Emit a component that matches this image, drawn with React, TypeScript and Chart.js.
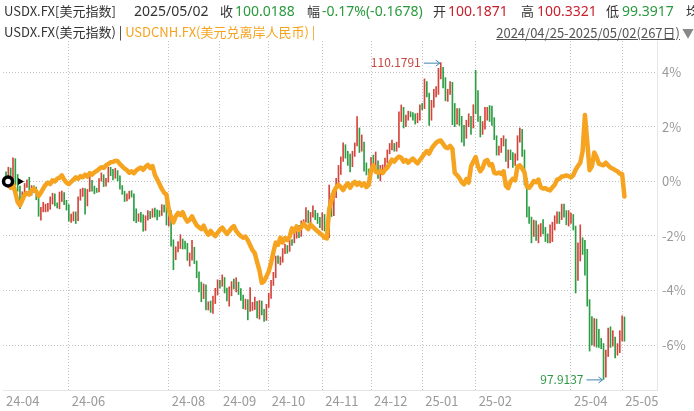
import { useEffect, useRef } from 'react';
import { Chart, registerables } from 'chart.js';
Chart.register(...registerables);

// ---------- categories ----------
const monthLabels = ['24-04','24-05','24-06','24-07','24-08','24-09','24-10','24-11','24-12','25-01','25-02','25-03','25-04','25-05'];
const monthDays = [4,23,20,23,22,21,23,21,22,23,20,21,22,2];
const shownMonths = ['24-04','24-06','24-08','24-09','24-10','24-11','24-12','25-01','25-02','25-04','25-05'];
const yTicks = [-6,-4,-2,0,2,4];
const startDate = '2024/04/25';
const endDate = '2025/05/02';

// ---------- USDX daily OHLC ----------
const usdxOpen = [
  105.85,105.55,106.05,105.60,
  106.22,105.76,105.30,105.00,105.05,105.45,105.55,105.22,105.30,105.22,104.98,104.33,104.44,104.45,104.63,104.63,104.93,105.02,104.72,104.60,105.11,105.12,104.74,
  104.61,104.14,104.25,104.27,104.11,104.89,105.15,105.26,104.66,105.22,105.55,105.33,105.25,105.23,105.63,105.80,105.47,105.63,106.08,105.91,
  105.87,105.90,105.73,105.39,105.11,104.88,105.00,105.12,105.06,104.44,104.09,104.26,104.24,103.77,104.16,104.40,104.30,104.47,104.37,104.35,104.32,104.56,104.53,
  104.10,104.41,103.21,102.70,102.97,103.14,103.24,103.14,103.13,102.61,102.62,103.01,102.45,101.97,101.46,101.09,101.49,100.68,100.86,100.54,101.09,101.35,
  101.70,101.67,101.82,101.37,101.09,101.18,101.63,101.62,101.63,101.35,101.11,100.75,100.89,100.60,100.62,100.72,100.85,100.36,100.91,100.56,100.38,
  100.78,101.20,101.69,101.99,102.53,102.52,102.54,102.92,102.99,102.90,103.29,103.25,103.59,103.83,103.49,104.01,104.08,104.41,104.07,104.26,104.32,104.31,104.09,
  103.99,104.28,103.89,103.43,105.08,104.31,104.99,105.54,106.03,106.49,106.70,106.69,106.28,106.21,106.68,107.00,107.55,106.85,107.01,106.08,105.99,
  105.74,106.45,106.35,106.36,105.75,105.99,106.15,106.41,106.70,106.96,106.99,106.85,106.97,108.14,108.40,107.82,108.03,108.26,108.13,108.10,107.99,108.13,
  108.49,108.45,109.39,108.95,108.26,108.53,109.05,109.18,109.65,109.86,109.30,109.06,109.08,109.34,108.33,108.08,108.25,108.04,107.44,107.34,107.88,107.99,107.81,
  109.50,108.94,107.97,107.59,107.69,108.04,108.30,107.95,107.94,107.30,106.71,106.76,107.13,107.19,106.39,106.63,106.54,106.36,106.48,107.27,
  107.56,106.73,105.58,104.29,104.08,103.84,103.92,103.44,103.61,103.83,103.73,103.35,103.26,103.46,103.86,104.12,104.27,104.20,104.56,104.32,103.99,
  104.21,104.24,103.80,102.08,103.02,103.26,102.93,102.88,100.88,100.10,99.64,100.22,99.40,99.38,99.23,98.36,98.92,99.84,99.31,99.47,98.98,99.24,
  99.47,100.1871,
];
const usdxHigh = [
  105.95,106.13,106.10,106.49,
  106.46,105.85,105.40,105.18,105.50,105.64,105.74,105.42,105.41,105.36,105.05,104.58,104.77,104.70,104.73,104.98,105.12,105.10,104.75,105.17,105.21,105.15,104.85,
  104.68,104.32,104.40,104.40,104.98,105.28,105.32,105.30,105.27,105.80,105.62,105.40,105.32,105.69,105.91,105.84,105.70,106.13,106.13,106.05,
  106.09,106.00,105.80,105.42,105.20,105.10,105.20,105.22,105.10,104.52,104.33,104.38,104.29,104.25,104.45,104.42,104.52,104.55,104.48,104.45,104.68,104.66,104.80,
  104.45,104.45,103.32,103.05,103.25,103.52,103.35,103.27,103.18,102.81,103.30,103.03,102.50,102.08,101.68,101.61,101.58,100.92,100.95,101.14,101.44,101.77,
  101.75,101.96,101.86,101.45,101.50,101.70,101.80,101.85,101.68,101.43,101.18,101.02,101.00,101.47,100.90,101.10,100.94,100.97,100.95,100.63,100.82,
  101.25,101.75,102.06,102.69,102.70,102.66,102.98,103.14,103.10,103.32,103.33,103.61,103.87,103.88,104.05,104.10,104.57,104.45,104.38,104.63,104.46,104.35,104.19,
  104.37,104.30,103.95,105.44,105.12,105.05,105.70,106.20,106.53,107.07,107.00,106.75,106.64,106.75,107.07,108.09,107.65,107.38,107.10,106.30,106.06,
  106.51,106.60,106.72,106.38,106.20,106.22,106.48,106.80,107.05,107.18,107.05,107.10,108.27,108.54,108.45,108.15,108.30,108.28,108.25,108.20,108.22,108.55,
  108.60,109.55,109.45,109.00,108.72,109.15,109.25,109.96,110.1791,110.00,109.60,109.15,109.45,109.42,108.60,108.40,108.40,108.10,107.75,107.95,108.20,108.10,108.55,
  109.88,109.10,108.10,107.90,108.45,108.45,108.52,108.50,108.05,107.35,106.95,107.25,107.35,107.22,106.80,106.80,106.70,106.65,107.35,107.65,
  107.60,106.80,105.70,104.60,104.20,104.08,104.05,103.90,103.95,104.10,103.80,103.55,103.90,104.00,104.25,104.40,104.40,104.70,104.70,104.45,104.45,
  104.35,104.30,103.85,103.20,103.90,103.40,103.30,102.95,101.00,100.35,100.27,100.25,99.85,99.50,99.30,99.05,99.90,99.95,99.80,99.55,99.30,99.80,
  100.38,100.3321,
];
const usdxLow = [
  105.45,105.50,105.52,105.56,
  105.44,105.20,104.52,104.96,105.00,105.35,105.15,105.05,105.15,104.87,104.23,104.08,104.40,104.40,104.42,104.50,104.70,104.63,104.55,104.52,104.80,104.68,104.47,
  104.04,103.99,104.05,103.95,104.06,104.85,105.00,104.31,104.63,105.19,105.20,105.10,105.15,105.17,105.59,105.38,105.40,105.55,105.80,105.64,
  105.70,105.60,105.28,105.08,104.80,104.82,104.90,104.97,104.05,103.98,104.03,104.00,103.65,103.68,104.08,104.14,104.19,104.20,104.09,104.22,104.26,104.39,103.89,
  103.85,103.07,102.16,102.55,102.85,102.98,102.96,102.97,102.52,102.30,102.53,102.40,101.85,101.30,100.92,101.04,100.60,100.60,100.51,100.47,100.85,101.18,
  101.45,101.52,101.26,100.95,100.75,101.15,101.42,101.30,101.20,100.97,100.65,100.62,100.22,100.55,100.58,100.62,100.29,100.25,100.41,100.16,100.20,
  100.70,101.05,101.55,101.85,102.40,102.35,102.45,102.78,102.80,102.87,103.10,103.20,103.38,103.40,103.45,103.85,104.00,103.97,103.98,104.20,104.10,103.95,103.79,
  103.70,103.66,103.37,103.40,104.22,104.25,104.95,105.45,105.85,106.35,106.48,106.20,105.95,106.15,106.55,106.95,106.70,106.75,105.98,105.83,105.63,
  105.70,106.10,106.10,105.70,105.60,105.85,106.08,106.30,106.65,106.80,106.75,106.75,106.90,107.90,107.65,107.70,107.95,108.08,107.95,107.80,107.85,107.95,
  108.35,108.40,108.85,107.75,107.95,108.45,108.85,108.95,109.55,109.20,108.70,108.68,108.95,107.78,107.70,107.80,107.75,107.10,106.95,107.25,107.70,107.40,107.65,
  108.20,107.90,107.30,107.40,107.60,107.95,107.90,107.75,107.20,106.60,106.60,106.70,106.95,106.35,106.10,106.42,106.12,106.20,106.40,107.10,
  106.55,105.45,104.20,103.95,103.20,103.45,103.30,103.20,103.45,103.55,103.25,103.20,103.20,103.25,103.70,103.95,103.95,104.10,104.20,103.90,103.85,
  103.95,103.70,101.26,101.75,102.50,102.75,101.95,100.75,99.01,99.25,99.20,99.16,99.15,99.10,97.9137,98.00,98.80,99.15,99.20,98.75,98.85,98.95,
  99.40,99.3917,
];
const usdxClose = [
  105.58,106.06,105.59,106.22,
  105.75,105.29,105.03,105.04,105.45,105.55,105.22,105.30,105.22,104.98,104.33,104.44,104.45,104.63,104.63,104.93,105.02,104.72,104.60,105.11,105.12,104.74,104.61,
  104.14,104.25,104.27,104.11,104.89,105.15,105.26,104.66,105.22,105.55,105.33,105.25,105.23,105.63,105.80,105.47,105.63,106.08,105.91,105.87,
  105.90,105.73,105.39,105.11,104.88,105.00,105.12,105.06,104.44,104.09,104.26,104.24,103.77,104.16,104.40,104.30,104.47,104.37,104.35,104.32,104.56,104.53,104.10,
  104.41,103.21,102.70,102.97,103.14,103.24,103.14,103.13,102.61,102.62,103.01,102.45,101.97,101.46,101.09,101.49,100.68,100.86,100.54,101.09,101.35,101.70,
  101.67,101.82,101.37,101.09,101.18,101.63,101.62,101.63,101.35,101.11,100.75,100.89,100.60,100.62,100.72,100.85,100.36,100.91,100.56,100.38,100.78,
  101.20,101.69,101.99,102.53,102.52,102.54,102.92,102.99,102.90,103.29,103.25,103.59,103.83,103.49,104.01,104.08,104.41,104.07,104.26,104.32,104.31,104.09,103.99,
  104.28,103.89,103.43,105.08,104.31,104.99,105.54,106.03,106.49,106.70,106.69,106.28,106.21,106.68,107.00,107.55,106.85,107.01,106.08,105.99,105.74,
  106.45,106.35,106.36,105.75,105.99,106.15,106.41,106.70,106.96,106.99,106.85,106.97,108.14,108.40,107.82,108.03,108.26,108.13,108.10,107.99,108.13,108.49,
  108.45,109.39,108.95,108.26,108.53,109.05,109.18,109.65,109.86,109.30,109.06,109.08,109.34,108.33,108.08,108.25,108.04,107.44,107.34,107.88,107.99,107.81,108.37,
  108.94,107.97,107.59,107.69,108.04,108.30,107.95,107.94,107.30,106.71,106.76,107.13,107.19,106.39,106.63,106.54,106.36,106.48,107.27,107.56,
  106.73,105.58,104.29,104.08,103.84,103.92,103.44,103.61,103.83,103.73,103.35,103.26,103.46,103.86,104.12,104.27,104.20,104.56,104.32,103.99,104.21,
  104.24,103.80,102.08,103.02,103.26,102.93,102.88,100.88,100.10,99.64,100.22,99.40,99.38,99.23,98.36,98.92,99.84,99.31,99.47,98.98,99.24,99.47,
  100.1866,100.0188,
];

// ---------- USDCNH daily close ----------
const cnhClose = [
  7.2650,7.2620,7.2480,7.2580,
  7.2350,7.2100,7.2010,7.2150,7.2290,7.2340,7.2300,7.2410,7.2460,7.2380,7.2260,7.2350,7.2460,7.2560,7.2620,7.2580,7.2680,7.2650,7.2720,7.2750,7.2810,7.2700,7.2620,
  7.2580,7.2640,7.2700,7.2760,7.2720,7.2790,7.2760,7.2830,7.2780,7.2870,7.2830,7.2890,7.2930,7.2980,7.3030,7.3010,7.3080,7.3120,7.3160,7.3170,
  7.3200,7.3190,7.3110,7.3050,7.2990,7.2950,7.2880,7.2920,7.2870,7.2940,7.2990,7.3020,7.2960,7.3040,7.3090,7.3010,7.3060,7.2830,7.2710,7.2580,7.2450,7.2350,7.2300,
  7.1900,7.1700,7.1560,7.1720,7.1810,7.1750,7.1830,7.1680,7.1580,7.1630,7.1720,7.1590,7.1480,7.1430,7.1380,7.1470,7.1320,7.1230,7.1330,7.1250,7.1190,7.1280,
  7.1360,7.1420,7.1330,7.1250,7.1320,7.1410,7.1460,7.1330,7.1250,7.1190,7.1150,7.1180,7.1080,7.0950,7.0820,7.0740,7.0500,7.0280,6.9950,6.9990,7.0120,
  7.0250,7.0480,7.0760,7.1020,7.0960,7.1150,7.1020,7.1140,7.1090,7.1180,7.1400,7.1320,7.1450,7.1360,7.1430,7.1530,7.1450,7.1380,7.1500,7.1440,7.1380,7.1320,7.1270,
  7.1220,7.1150,7.1130,7.1920,7.2150,7.2380,7.2490,7.2560,7.2500,7.2420,7.2530,7.2600,7.2480,7.2580,7.2640,7.2560,7.2620,7.2540,7.2600,7.2500,7.2560,
  7.2950,7.3080,7.2910,7.2880,7.2930,7.2870,7.2960,7.3020,7.3120,7.3230,7.3180,7.3260,7.3310,7.3280,7.3180,7.3220,7.3150,7.3210,7.3260,7.3190,7.3130,7.3220,
  7.3300,7.3390,7.3460,7.3390,7.3520,7.3610,7.3680,7.3720,7.3740,7.3650,7.3560,7.3540,7.3600,7.3520,7.2880,7.2820,7.2740,7.2630,7.2570,7.2710,7.2620,7.3050,7.3180,
  7.3300,7.3050,7.2920,7.3010,7.3190,7.3220,7.3080,7.3110,7.2880,7.2860,7.2890,7.2850,7.2920,7.2530,7.2470,7.2650,7.2720,7.2680,7.3050,7.3080,
  7.3000,7.2890,7.2510,7.2480,7.2560,7.2660,7.2630,7.2700,7.2500,7.2460,7.2470,7.2430,7.2410,7.2490,7.2560,7.2700,7.2720,7.2780,7.2790,7.2810,7.2790,
  7.2760,7.2820,7.2960,7.3060,7.3150,7.3450,7.4420,7.3700,7.2950,7.3050,7.3420,7.3300,7.3120,7.3100,7.3080,7.3150,7.3080,7.3020,7.2990,7.2950,7.2920,7.2860,
  7.2850,7.2250,
];

const FONT = '"Noto Sans CJK SC", "Noto Sans", sans-serif';
const NUM_FONT = '"Noto Sans", "Noto Sans CJK SC", sans-serif';
const UP = '#d4463b';
const DOWN = '#2e9e44';
const ORANGE = '#f6a31f';
const TXT = '#333333';
const GRID = '#c2c2c2';
const AXIS_TXT = '#9a9a9a';

const X_MIN = -1.3;
const X_MAX = 280;
const Y_MIN = -7.65;
const Y_MAX = 5.15;

const pctX = (p: number) => (p / usdxClose[0] - 1) * 100;
const pctC = (p: number) => (p / cnhClose[0] - 1) * 100;

const monthStart: Record<string, number> = {};
{
  let acc = 0;
  monthLabels.forEach((m, k) => { monthStart[m] = acc; acc += monthDays[k]; });
}

const extremesPlugin = {
  id: 'extremes',
  afterDatasetsDraw(chart: any) {
    const { ctx, scales } = chart;
    const x = scales.x, y = scales.y;
    let hi = 0, lo = 0;
    usdxHigh.forEach((v, i) => { if (v > usdxHigh[hi]) hi = i; });
    usdxLow.forEach((v, i) => { if (v < usdxLow[lo]) lo = i; });
    const draw = (i: number, val: number, color: string) => {
      const px = x.getPixelForValue(i);
      const py = y.getPixelForValue(pctX(val));
      ctx.save();
      ctx.font = `12px ${FONT}`;
      ctx.fillStyle = color;
      ctx.textAlign = 'right';
      ctx.textBaseline = 'middle';
      ctx.fillText(val.toFixed(4), px - 20, py);
      ctx.strokeStyle = '#3f86b0';
      ctx.lineWidth = 1;
      ctx.beginPath();
      ctx.moveTo(px - 17, py + 0.5);
      ctx.lineTo(px - 1, py + 0.5);
      ctx.moveTo(px - 5, py - 2.5);
      ctx.lineTo(px - 1, py + 0.5);
      ctx.lineTo(px - 5, py + 3.5);
      ctx.stroke();
      ctx.restore();
    };
    draw(hi, usdxHigh[hi], '#c8473d');
    draw(lo, usdxLow[lo], '#2f9a46');
  },
};

const markerPlugin = {
  id: 'startMarker',
  afterDatasetsDraw(chart: any) {
    const { ctx, scales } = chart;
    const px = scales.x.getPixelForValue(0) + 2;
    const py = scales.y.getPixelForValue(0);
    ctx.save();
    ctx.beginPath();
    ctx.arc(px, py, 4.5, 0, Math.PI * 2);
    ctx.fillStyle = '#ffffff';
    ctx.fill();
    ctx.lineWidth = 3.5;
    ctx.strokeStyle = '#000000';
    ctx.stroke();
    ctx.beginPath();
    ctx.moveTo(px + 10, py - 3.5);
    ctx.lineTo(px + 16, py);
    ctx.lineTo(px + 10, py + 3.5);
    ctx.closePath();
    ctx.fillStyle = '#000000';
    ctx.fill();
    ctx.restore();
  },
};

export default function App() {
  const ref = useRef<HTMLCanvasElement | null>(null);

  useEffect(() => {
    document.body.style.margin = '0';
    const n = usdxClose.length;
    const idx = Array.from({ length: n }, (_, i) => i);
    const colors = idx.map(i => (usdxClose[i] >= usdxOpen[i] ? UP : DOWN));
    const wicks = idx.map(i => ({ x: i, y: [pctX(usdxLow[i]), pctX(usdxHigh[i])] }));
    const cnh = idx.map(i => ({ x: i, y: pctC(cnhClose[i]) }));
    const xTickVals = shownMonths.map(m => (monthStart[m] === 0 ? X_MIN : monthStart[m]));

    const chart = new Chart(ref.current as HTMLCanvasElement, {
      type: 'bar',
      data: {
        datasets: [
          {
            type: 'line',
            data: cnh,
            borderColor: ORANGE,
            borderWidth: 4.5,
            pointRadius: 0,
            tension: 0,
            borderJoinStyle: 'round',
            borderCapStyle: 'round',
            order: 0,
          } as any,
          {
            type: 'bar',
            data: wicks,
            backgroundColor: colors,
            barThickness: 1,
            grouped: false,
            order: 2,
          } as any,
        ],
      },
      options: {
        animation: false,
        responsive: false,
        maintainAspectRatio: false,
        layout: { padding: { top: 41, left: 0, right: 0, bottom: 0 } },
        plugins: { legend: { display: false }, tooltip: { enabled: false }, title: { display: false } },
        scales: {
          x: {
            type: 'linear',
            min: X_MIN,
            max: X_MAX,
            offset: false,
            afterBuildTicks: (s: any) => { s.ticks = xTickVals.map(v => ({ value: v })); },
            afterFit: (s: any) => { s.height = 21; },
            ticks: {
              autoSkip: false,
              maxRotation: 0,
              align: 'start',
              labelOffset: 3,
              padding: 3,
              color: AXIS_TXT,
              font: { family: FONT, size: 13 },
              callback: (_v: any, i: number) => shownMonths[i],
            },
            grid: {
              drawTicks: false,
              offset: false,
              color: (c: any) => (c.index === 0 ? 'rgba(0,0,0,0)' : GRID),
              lineWidth: 1,
            },
            border: { display: true, color: '#e6e6e6', dash: [1, 2] },
          } as any,
          y: {
            type: 'linear',
            position: 'right',
            min: Y_MIN,
            max: Y_MAX,
            afterBuildTicks: (s: any) => { s.ticks = yTicks.map(v => ({ value: v })); },
            afterFit: (s: any) => { s.width = 37; },
            ticks: {
              padding: 5,
              color: AXIS_TXT,
              font: { family: FONT, size: 13 },
              callback: (v: any) => `${v}%`,
            },
            grid: { drawTicks: false, color: GRID, lineWidth: 1 },
            border: { display: true, color: '#e6e6e6', dash: [1, 2] },
          } as any,
        },
      },
      plugins: [extremesPlugin, markerPlugin],
    });
    return () => chart.destroy();
  }, []);

  const last = usdxClose.length - 1;
  const prev = usdxClose[last - 1];
  const chg = usdxClose[last] - prev;
  const chgPct = (chg / prev) * 100;
  const green = '#2a9a3e';
  const red = '#c8202c';
  const header1: { t: string; x: number; c: string; num?: boolean; size?: number }[] = [
    { t: 'USDX.FX[美元指数]', x: 4, c: TXT, size: 13 },
    { t: endDate, x: 134, c: TXT, num: true },
    { t: '收', x: 220, c: TXT, size: 13 },
    { t: usdxClose[last].toFixed(4), x: 235, c: chg < 0 ? green : red, num: true },
    { t: '幅', x: 307, c: TXT, size: 13 },
    { t: `${chgPct.toFixed(2)}%(${chg.toFixed(4)})`, x: 322, c: chg < 0 ? green : red, num: true },
    { t: '开', x: 433, c: TXT, size: 13 },
    { t: usdxOpen[last].toFixed(4), x: 448, c: usdxOpen[last] >= prev ? red : green, num: true },
    { t: '高', x: 521, c: TXT, size: 13 },
    { t: usdxHigh[last].toFixed(4), x: 537, c: usdxHigh[last] >= prev ? red : green, num: true },
    { t: '低', x: 606, c: TXT, size: 13 },
    { t: usdxLow[last].toFixed(4), x: 622, c: usdxLow[last] >= prev ? red : green, num: true },
    { t: '均', x: 686, c: TXT, size: 13 },
  ];

  return (
    <div style={{ position: 'absolute', left: 0, top: 0, width: 694, height: 411, overflow: 'hidden', background: '#fff', fontFamily: FONT }}>
      <canvas ref={ref} width={694} height={411} style={{ position: 'absolute', left: 0, top: 0, width: 694, height: 411 }} />
      {header1.map((h, k) => (
        <span key={k} style={{ position: 'absolute', left: h.x, top: 2, fontSize: h.size || 14, lineHeight: '18px', color: h.c, whiteSpace: 'nowrap', fontFamily: h.num ? NUM_FONT : FONT }}>{h.t}</span>
      ))}
      <div style={{ position: 'absolute', left: 4, top: 23, fontSize: 13, lineHeight: '18px', whiteSpace: 'nowrap' }}>
        <span style={{ color: TXT }}>USDX.FX(美元指数) | </span>
        <span style={{ color: ORANGE }}>USDCNH.FX(美元兑离岸人民币) |</span>
      </div>
      <div style={{ position: 'absolute', right: 0, top: 24, fontSize: 13, lineHeight: '18px', whiteSpace: 'nowrap', color: '#555' }}>
        <span style={{ textDecoration: 'underline' }}>{`${startDate}-${endDate}(${usdxClose.length}日)`}</span>
        <span style={{ color: '#888', marginLeft: 2, fontSize: 12 }}>▼</span>
      </div>
    </div>
  );
}
